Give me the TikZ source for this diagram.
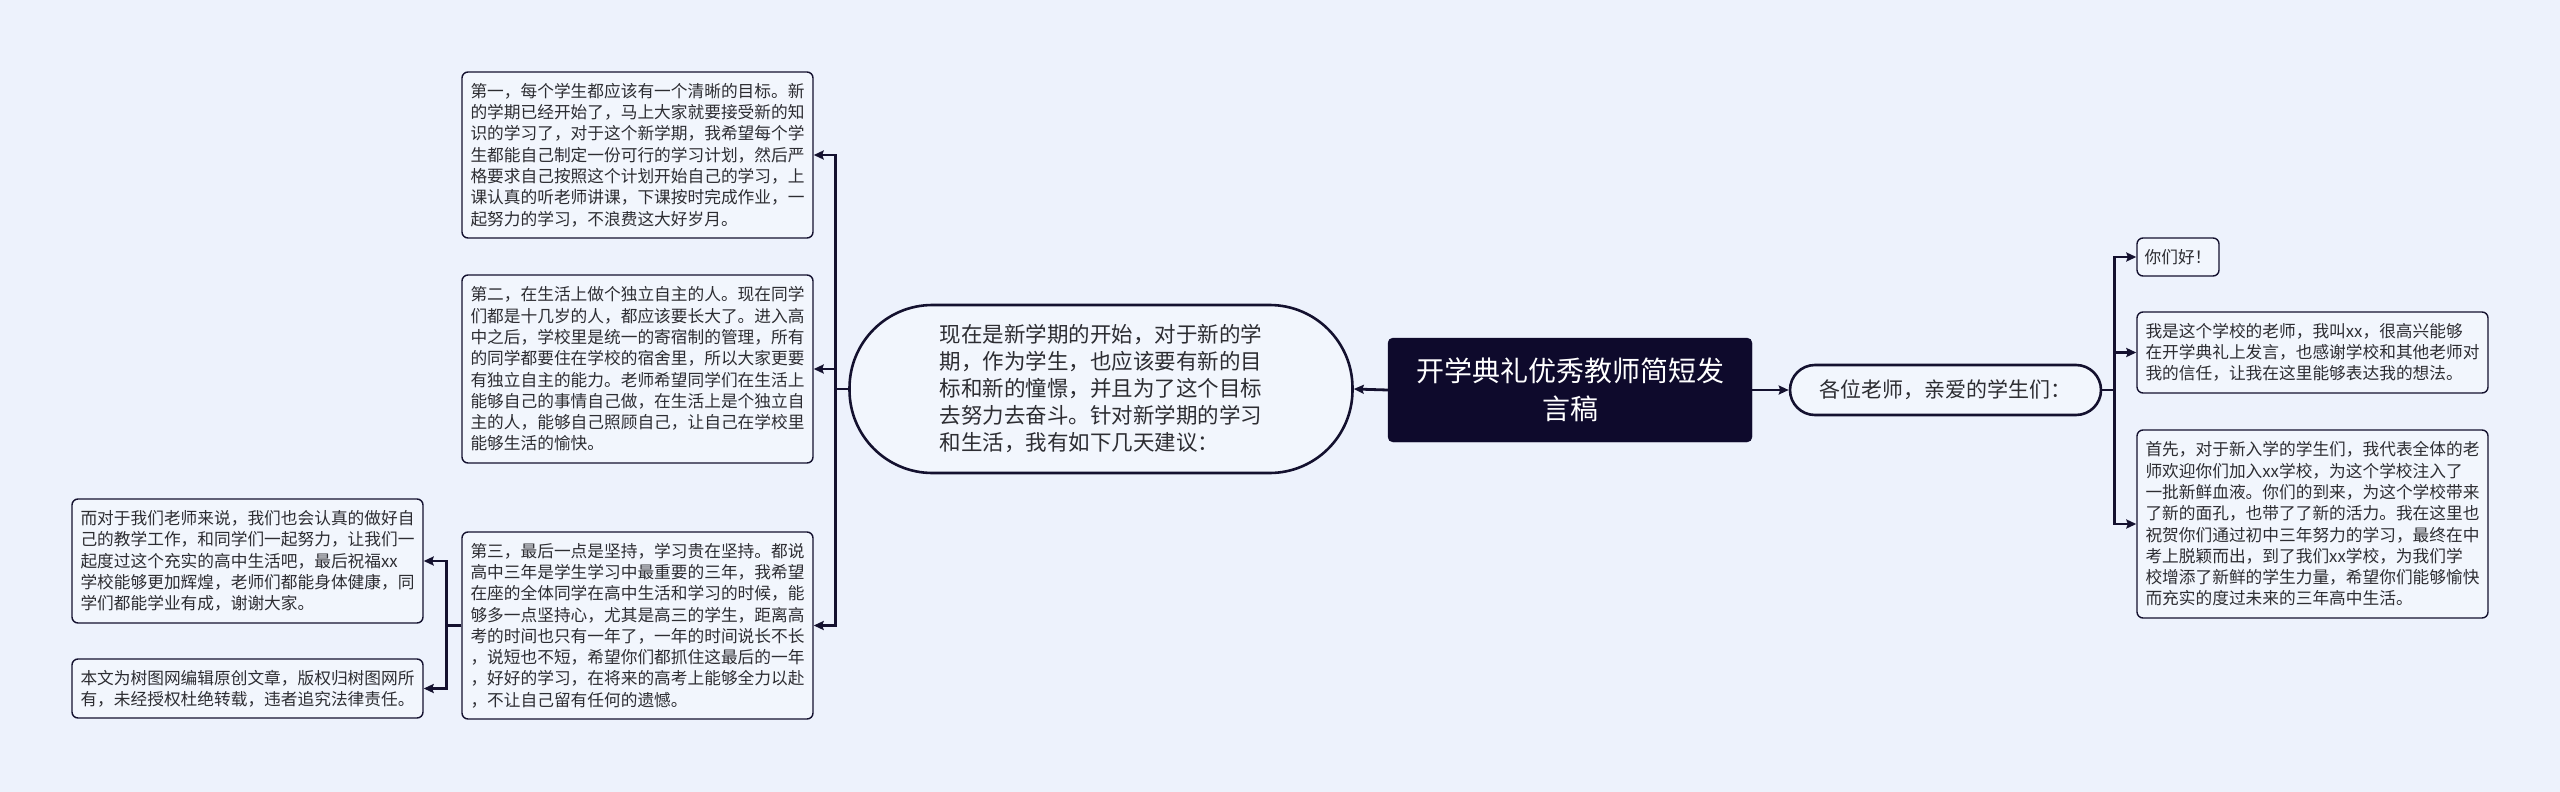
\documentclass[tikz,border=0pt]{standalone}
\usepackage{fontspec}
\newfontfamily\cjk{Noto Sans CJK SC}
\usetikzlibrary{arrows.meta}
\definecolor{bgc}{RGB}{237,242,252}
\definecolor{boxc}{RGB}{242,246,253}
\definecolor{navy}{RGB}{14,10,44}
\definecolor{linec}{RGB}{20,17,47}
\definecolor{txt}{RGB}{45,45,50}
\tikzset{
  leaf/.style={draw=linec, line width=1.4pt, fill=boxc, rounded corners=6pt, align=left, inner sep=4pt,
    text=txt, font=\cjk\fontsize{16.7pt}{21.3pt}\selectfont},
  conn/.style={draw=linec, line width=2.8pt, -{Stealth[length=10pt,width=9pt,inset=1.5pt]}},
}
\begin{document}
\begin{tikzpicture}[x=1pt,y=-1pt]
\useasboundingbox (0,0) rectangle (2560,792);
\fill[bgc] (0,0) rectangle (2560,792);

% central
\node[fill=navy, draw=navy, rounded corners=5pt, minimum width=364pt, minimum height=104pt, align=center,
  text=white, font=\cjk\fontsize{28pt}{38pt}\selectfont] (ctr) at (1570,390) {开学典礼优秀教师简短发\\言稿};

% left main
\node[draw=linec, line width=2.6pt, fill=boxc, rounded corners=83pt, minimum width=503pt, minimum height=168pt,
  align=left, text=txt, font=\cjk\fontsize{21.5pt}{27pt}\selectfont] (L) at (1101,389)
  {现在是新学期的开始，对于新的学\\期，作为学生，也应该要有新的目\\标和新的憧憬，并且为了这个目标\\去努力去奋斗。针对新学期的学习\\和生活，我有如下几天建议：};

% right main
\node[draw=linec, line width=2.6pt, fill=boxc, rounded corners=25pt, minimum width=311pt, minimum height=50pt,
  text=txt, font=\cjk\fontsize{21pt}{26pt}\selectfont] (R) at (1945.5,390) {各位老师，亲爱的学生们：};

% left children
\node[leaf, minimum width=351pt, minimum height=166pt] (c1) at (637.5,155)
  {第一，每个学生都应该有一个清晰的目标。新\\的学期已经开始了，马上大家就要接受新的知\\识的学习了，对于这个新学期，我希望每个学\\生都能自己制定一份可行的学习计划，然后严\\格要求自己按照这个计划开始自己的学习，上\\课认真的听老师讲课，下课按时完成作业，一\\起努力的学习，不浪费这大好岁月。};
\node[leaf, minimum width=351pt, minimum height=188pt] (c2) at (637.5,369)
  {第二，在生活上做个独立自主的人。现在同学\\们都是十几岁的人，都应该要长大了。进入高\\中之后，学校里是统一的寄宿制的管理，所有\\的同学都要住在学校的宿舍里，所以大家更要\\有独立自主的能力。老师希望同学们在生活上\\能够自己的事情自己做，在生活上是个独立自\\主的人，能够自己照顾自己，让自己在学校里\\能够生活的愉快。};
\node[leaf, minimum width=351pt, minimum height=187pt] (c3) at (637.5,625.5)
  {第三，最后一点是坚持，学习贵在坚持。都说\\高中三年是学生学习中最重要的三年，我希望\\在座的全体同学在高中生活和学习的时候，能\\够多一点坚持心，尤其是高三的学生，距离高\\考的时间也只有一年了，一年的时间说长不长\\，说短也不短，希望你们都抓住这最后的一年\\，好好的学习，在将来的高考上能够全力以赴\\，不让自己留有任何的遗憾。};

% far-left children
\node[leaf, minimum width=351pt, minimum height=124pt] (d1) at (247.5,561)
  {而对于我们老师来说，我们也会认真的做好自\\己的教学工作，和同学们一起努力，让我们一\\起度过这个充实的高中生活吧，最后祝福xx\\学校能够更加辉煌，老师们都能身体健康，同\\学们都能学业有成，谢谢大家。};
\node[leaf, minimum width=351pt, minimum height=59pt] (d2) at (247.5,688.5)
  {本文为树图网编辑原创文章，版权归树图网所\\有，未经授权杜绝转载，违者追究法律责任。};

% right children
\node[leaf, minimum width=82pt, minimum height=38pt] (r1) at (2178,257) {你们好！};
\node[leaf, minimum width=351pt, minimum height=81pt] (r2) at (2312.5,352.5)
  {我是这个学校的老师，我叫xx，很高兴能够\\在开学典礼上发言，也感谢学校和其他老师对\\我的信任，让我在这里能够表达我的想法。};
\node[leaf, minimum width=351pt, minimum height=188pt] (r3) at (2312.5,524)
  {首先，对于新入学的学生们，我代表全体的老\\师欢迎你们加入xx学校，为这个学校注入了\\一批新鲜血液。你们的到来，为这个学校带来\\了新的面孔，也带了了新的活力。我在这里也\\祝贺你们通过初中三年努力的学习，最终在中\\考上脱颖而出，到了我们xx学校，为我们学\\校增添了新鲜的学生力量，希望你们能够愉快\\而充实的度过未来的三年高中生活。};

% connectors
\draw[conn] (ctr.west) -- (L.east);
\draw[conn] (ctr.east) -- (R.west);
\foreach \c in {c1,c2,c3} \draw[conn] (L.west) -- ++(-13,0) |- (\c.east);
\foreach \c in {d1,d2} \draw[conn] (c3.west) -- ++(-15,0) |- (\c.east);
\foreach \c in {r1,r2,r3} \draw[conn] (R.east) -- ++(12,0) |- (\c.west);
\end{tikzpicture}
\end{document}
